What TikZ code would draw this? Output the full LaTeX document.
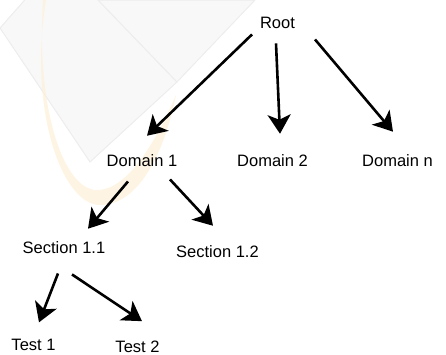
\documentclass[tikz,border=0pt]{standalone}
\usepackage{fontspec}
\setmainfont{Liberation Sans}
\usetikzlibrary{arrows.meta}

\definecolor{sheetgray}{HTML}{F8F8F8}
\definecolor{sheetline}{HTML}{EDEDED}
\definecolor{swoosh}{HTML}{FDF0D8}

\begin{document}
\begin{tikzpicture}[
    x=1pt, y=-1pt,
    >={Stealth[length=19pt,width=23pt,inset=5pt]},
    line width=2.6pt,
    every node/.style={font=\fontsize{16.5}{20}\selectfont, inner sep=0pt, anchor=base},
    every edge/.style={draw, ->}
]
\useasboundingbox (0,0) rectangle (446,354);

% ---------------- Faint logo behind the tree ----------------
\begin{scope}
  \clip (0,0) rectangle (446,354);
  \filldraw[fill=sheetgray, draw=sheetline, line width=1pt]
      (0,28) -- (90,162) -- (177,82) -- (60,-40) -- cycle;
  \filldraw[fill=sheetgray, draw=sheetline, line width=1pt]
      (98,0) -- (177,82) -- (255,0) -- cycle;
  \fill[swoosh, opacity=0.7]
      (46,0) .. controls (28,110) and (62,205) .. (100,205)
      .. controls (140,205) and (165,150) .. (176,95)
      .. controls (152,150) and (125,190) .. (97,190)
      .. controls (64,190) and (36,110) .. (43,0) -- cycle;
\end{scope}

% ---------------- Nodes ----------------
\node (root) at (277.5,28) {Root};
\node (d1) at (142,166) {Domain 1};
\node (d2) at (272.5,166) {Domain 2};
\node (dn) at (397.5,166) {Domain n};
\node (s11) at (64,253) {Section 1.1};
\node (s12) at (217.5,257) {Section 1.2};
\node (t1) at (33.5,350) {Test 1};
\node (t2) at (137.5,352) {Test 2};

% ---------------- Edges ----------------
% Root
\draw ([xshift=-25.5pt,yshift=-5pt]root.south) edge ([xshift=5pt,yshift=17pt]d1.north)
      ([xshift=-1.5pt,yshift=-14pt]root.south) edge ([xshift=7.5pt,yshift=19pt]d2.north)
      ([xshift=37.5pt,yshift=-10pt]root.south) edge ([xshift=-4.5pt,yshift=21pt]dn.north);

% Domain 1
\draw ([xshift=-14pt,yshift=-14pt]d1.south) edge ([xshift=24pt,yshift=11pt]s11.north)
      ([xshift=28pt,yshift=-12pt]d1.south) edge ([xshift=-4.5pt,yshift=18pt]s12.north);

% Section 1.1
\draw ([xshift=-6pt,yshift=-19pt]s11.south) edge ([xshift=5.5pt,yshift=15pt]t1.north)
      ([xshift=8pt,yshift=-20pt]s11.south) edge ([xshift=4.5pt,yshift=18pt]t2.north);

\end{tikzpicture}
\end{document}
